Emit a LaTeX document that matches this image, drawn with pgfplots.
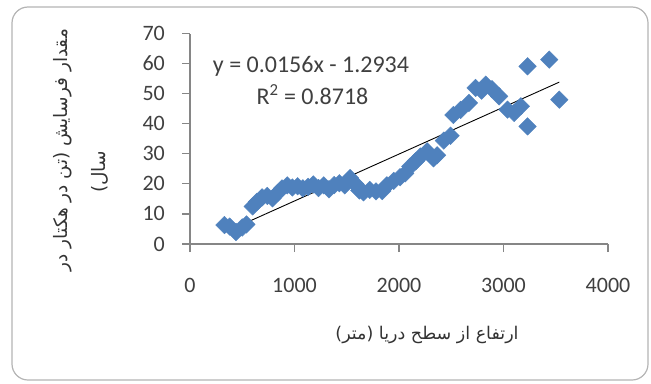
\documentclass[border=0pt]{standalone}
\usepackage{fontspec}
\setmainfont{Carlito}
\newfontfamily\arabicfont[Script=Arabic]{DejaVu Sans}
\TeXXeTstate=1
\usepackage{pgfplots}
\pgfplotsset{compat=1.18}
\definecolor{xlblue}{HTML}{4F81BD}
\definecolor{axgray}{HTML}{868686}
\definecolor{framegray}{HTML}{B4B4B4}
\begin{document}
\begin{tikzpicture}[x=1bp,y=1bp]
\useasboundingbox (0,0) rectangle (651,383);
\draw[framegray, line width=1.2bp, rounded corners=16bp] (12,3) rectangle (648,376);
\begin{axis}[
  at={(190bp,139bp)}, anchor=south west,
  scale only axis, width=418bp, height=210.5bp,
  xmin=0, xmax=4000, ymin=0, ymax=70,
  axis x line=bottom, axis y line=left,
  axis line style={axgray, line width=1.2bp, -},
  xtick={0,1000,2000,3000,4000}, ytick={0,10,20,30,40,50,60,70},
  tick align=outside, major tick length=8bp,
  tick style={axgray, line width=1.2bp},
  /pgf/number format/assume math mode=true,
  /pgf/number format/1000 sep={},
  ticklabel style={font=\fontsize{22bp}{26bp}\selectfont, text=black!75},
  yticklabel style={anchor=east, inner sep=0pt, xshift=-17bp},
  xticklabel style={anchor=north, inner sep=0pt, yshift=-26bp},
  clip=false,
]
\addplot[only marks, mark=square*, mark size=6.2bp,
  mark options={rotate=45, fill=xlblue, draw=xlblue}] table {
x y
330 6.3
380 5.8
440 4.0
500 5.5
540 6.5
600 12.5
640 14.0
690 15.5
740 16.0
790 15.2
840 17.0
880 18.5
930 19.5
980 18.8
1030 19.2
1080 18.5
1130 19.0
1180 19.8
1230 18.6
1280 19.5
1330 18.2
1380 19.6
1430 20.2
1480 19.5
1532 21.9
1580 20.0
1620 17.8
1660 17.2
1720 18.0
1780 17.5
1840 17.6
1884 19.5
1950 21.0
2010 22.2
2060 23.5
2108 25.8
2160 27.5
2205 29.1
2269 30.8
2330 28.5
2365 29.5
2429 34.4
2493 36.0
2520 42.9
2590 44.6
2669 46.9
2733 51.9
2790 51.0
2830 53.0
2890 51.5
2958 49.1
3038 44.7
3102 43.6
3166 45.8
3230 59.1
3230 39.1
3438 61.3
3534 48.0
};
\addplot[black, line width=0.9bp, no marks] coordinates {(330,3.855) (3534,53.837)};
\end{axis}
\node[font=\fontsize{24bp}{28bp}\selectfont, text=black!75] at (311,316.3) {y = 0.0156x - 1.2934};
\node[font=\fontsize{24bp}{28bp}\selectfont, text=black!75] at (312.5,288) {R\textsuperscript{2} = 0.8718};
\node[rotate=90, font=\arabicfont\fontsize{18.5bp}{22bp}\selectfont, text=black!80] at (63,233) {\beginR مقدار فرسایش (تن در هکتار در\endR};
\node[rotate=90, font=\arabicfont\fontsize{18.5bp}{22bp}\selectfont, text=black!80] at (100,211) {\beginR سال)\endR};
\node[font=\arabicfont\fontsize{17.5bp}{21bp}\selectfont, text=black!80] at (427,48) {\beginR ارتفاع از سطح دریا (متر)\endR};
\end{tikzpicture}
\end{document}
